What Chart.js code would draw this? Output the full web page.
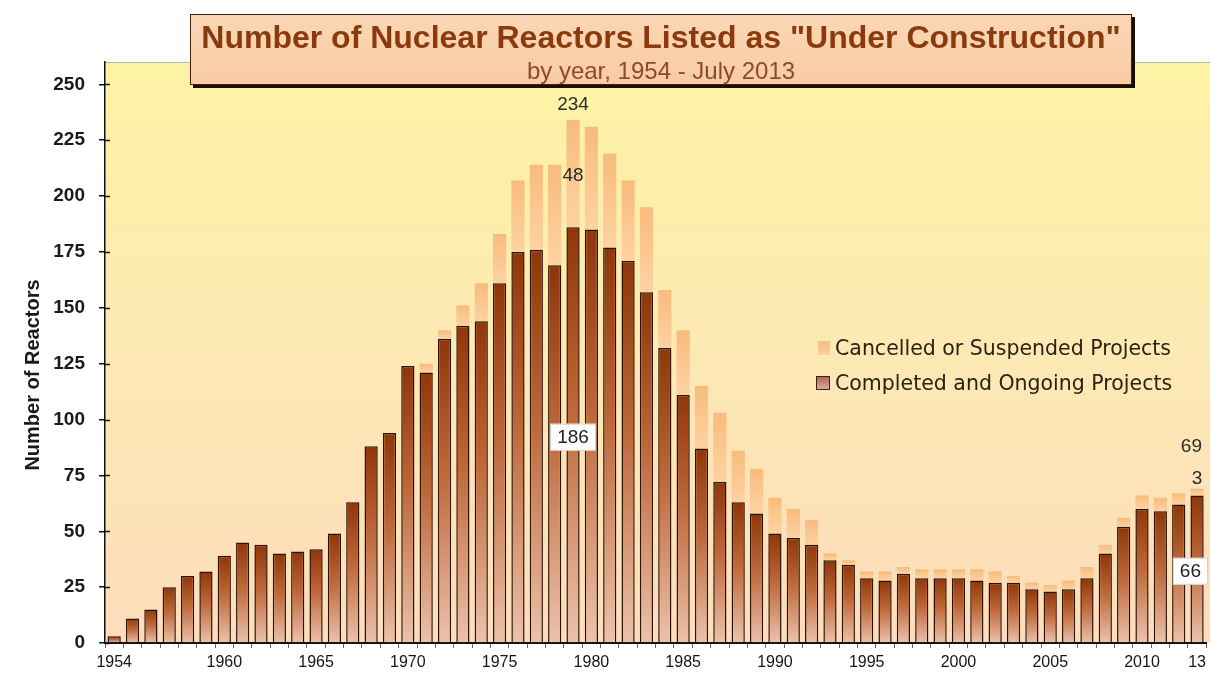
<!DOCTYPE html>
<html>
<head>
<meta charset="utf-8">
<script src="https://cdn.jsdelivr.net/npm/chart.js@4.4.0/dist/chart.umd.min.js"></script>
<style>
html,body{margin:0;padding:0;background:#fff;}
#wrap{position:relative;width:1211px;height:681px;overflow:hidden;background:#fff;}
#c{position:absolute;left:0;top:0;}
#title{position:absolute;left:190px;top:14px;width:942px;height:71px;box-sizing:border-box;
  background:linear-gradient(#fbd7b6,#f8cba3);border:1px solid #4a1e08;box-shadow:3px 3px 0 #1b0c04;
  text-align:center;font-family:"Liberation Sans",Arial,sans-serif;}
#title .t1{position:absolute;left:0;right:0;top:3px;font-weight:bold;font-size:32px;line-height:38px;color:#8a3a0c;white-space:nowrap;}
#title .t2{position:absolute;left:0;right:0;top:43px;font-size:24px;line-height:26px;color:#8e4a2c;white-space:nowrap;}
#legend{position:absolute;left:0;top:0;font-family:"DejaVu Sans",sans-serif;font-size:20.5px;color:#2b2212;}
#legend .row{position:absolute;white-space:nowrap;height:26px;line-height:26px;}
#legend .sw{display:inline-block;vertical-align:middle;box-sizing:border-box;margin-right:5px;position:relative;top:-1px;}
</style>
</head>
<body>
<div id="wrap">
  <canvas id="c" width="1211" height="681"></canvas>
  <div id="title"><div class="t1">Number of Nuclear Reactors Listed as "Under Construction"</div><div class="t2">by year, 1954 - July 2013</div></div>
  <div id="legend"></div>
</div>
<script>
// ---- data ----
const years = ['1954','1955','1956','1957','1958','1959','1960','1961','1962','1963',
               '1964','1965','1966','1967','1968','1969','1970','1971','1972','1973',
               '1974','1975','1976','1977','1978','1979','1980','1981','1982','1983',
               '1984','1985','1986','1987','1988','1989','1990','1991','1992','1993',
               '1994','1995','1996','1997','1998','1999','2000','2001','2002','2003',
               '2004','2005','2006','2007','2008','2009','2010','2011','2012','2013'];
const completed = [3,11,15,25,30,32,39,45,44,40,
                   41,42,49,63,88,94,124,121,136,142,
                   144,161,175,176,169,186,185,177,171,157,
                   132,111,87,72,63,58,49,47,44,37,
                   35,29,28,31,29,29,29,28,27,27,
                   24,23,24,29,40,52,60,59,62,66];
const cancelled = [0,0,0,0,0,0,0,0,0,0,
                   0,0,0,0,0,0,0,4,4,9,
                   17,22,32,38,45,48,46,42,36,38,
                   26,29,28,31,23,20,16,13,11,3,
                   2,3,4,3,4,4,4,5,5,3,
                   3,3,4,5,4,4,6,6,5,3];
const seriesNames = ['Completed and Ongoing Projects', 'Cancelled or Suspended Projects'];
const yTicks = [0,25,50,75,100,125,150,175,200,225,250];
const xTickYears = ['1954','1960','1965','1970','1975','1980','1985','1990','1995','2000','2005','2010','2013'];
const xTickText  = ['1954','1960','1965','1970','1975','1980','1985','1990','1995','2000','2005','2010','13'];
const labelledYears = ['1979','2013'];
const yTitle = 'Number of Reactors';

// ---- styling helpers ----
const FONT = '"Liberation Sans", Arial, sans-serif';

function barRange(ctx, dsIndex) {
  const chart = ctx.chart;
  const y = chart.scales.y;
  const i = ctx.dataIndex;
  const lo = dsIndex === 0 ? 0 : completed[i];
  const hi = dsIndex === 0 ? completed[i] : completed[i] + cancelled[i];
  return [y.getPixelForValue(hi), y.getPixelForValue(lo)];
}
function darkFill(ctx) {
  const chart = ctx.chart;
  if (!chart.chartArea || ctx.type !== 'data') return '#b8603a';
  const [top, base] = barRange(ctx, 0);
  if (!(base > top)) return '#b8603a';
  const g = chart.ctx.createLinearGradient(0, top, 0, base);
  g.addColorStop(0, '#903608');
  g.addColorStop(0.45, '#bf683a');
  g.addColorStop(1, '#ecc2ac');
  return g;
}
function lightFill(ctx) {
  const chart = ctx.chart;
  if (!chart.chartArea || ctx.type !== 'data') return '#fbc78e';
  const [top, base] = barRange(ctx, 1);
  if (!(base > top)) return '#fbc78e';
  const g = chart.ctx.createLinearGradient(0, top, 0, base);
  g.addColorStop(0, '#f8bb7c');
  g.addColorStop(1, '#fdd3a2');
  return g;
}

const bgPlugin = {
  id: 'plotBg',
  beforeDraw(chart) {
    const {ctx, chartArea: a} = chart;
    ctx.save();
    const g = ctx.createLinearGradient(0, a.top, 0, a.bottom);
    g.addColorStop(0, '#fdf3a4');
    g.addColorStop(0.5, '#fde9b4');
    g.addColorStop(1, '#fddcbb');
    ctx.fillStyle = g;
    ctx.fillRect(a.left, a.top, chart.width - a.left - 1, a.bottom - a.top);
    ctx.strokeStyle = '#b9b2a0';
    ctx.lineWidth = 1;
    ctx.beginPath();
    ctx.moveTo(a.left, a.top + 0.5);
    ctx.lineTo(chart.width - 1, a.top + 0.5);
    ctx.stroke();
    ctx.restore();
  }
};

const axisExtras = {
  id: 'axisExtras',
  afterDraw(chart) {
    const {ctx} = chart;
    const y = chart.scales.y;
    ctx.save();
    ctx.strokeStyle = '#111';
    ctx.lineWidth = 1.5;
    yTicks.forEach(v => {
      const py = Math.round(y.getPixelForValue(v)) + 0.5;
      ctx.beginPath();
      ctx.moveTo(y.right, py);
      ctx.lineTo(y.right + 5, py);
      ctx.stroke();
    });
    // y-axis title
    ctx.translate(33, 375);
    ctx.rotate(-Math.PI / 2);
    ctx.font = 'bold 20px ' + FONT;
    ctx.fillStyle = '#1a1a1a';
    ctx.textAlign = 'center';
    ctx.textBaseline = 'middle';
    ctx.fillText(yTitle, 0, 0);
    ctx.restore();
  }
};

const valueLabels = {
  id: 'valueLabels',
  afterDatasetsDraw(chart) {
    const {ctx} = chart;
    const y = chart.scales.y;
    const meta = chart.getDatasetMeta(0);
    ctx.save();
    ctx.font = '19px ' + FONT;
    ctx.textAlign = 'center';
    ctx.textBaseline = 'middle';
    labelledYears.forEach(yr => {
      const i = years.indexOf(yr);
      const el = meta.data[i];
      const done = completed[i], canc = cancelled[i], total = done + canc;
      const clampX = (x, half, lim) => Math.min(x, lim - half);
      const t1 = String(done);
      const w1 = ctx.measureText(t1).width + 14;
      const bx = clampX(el.x, w1 / 2, chart.width - 3);
      const by = y.getPixelForValue(done / 2) + 2;
      ctx.fillStyle = '#ffffff';
      ctx.strokeStyle = '#d8d0c8';
      ctx.lineWidth = 1;
      ctx.fillRect(bx - w1 / 2, by - 13.5, w1, 27);
      ctx.strokeRect(bx - w1 / 2 + 0.5, by - 13.5 + 0.5, w1 - 1, 26);
      ctx.fillStyle = '#222';
      ctx.fillText(t1, bx, by + 1);
      const seg = y.getPixelForValue(done) - y.getPixelForValue(total);
      let cy, ty;
      if (seg > 24) {
        cy = y.getPixelForValue(done + canc / 2) + 2;
        ty = y.getPixelForValue(total) - 15;
      } else {
        cy = y.getPixelForValue(total) - 10;
        ty = cy - 32;
      }
      const t2 = String(canc), t3 = String(total);
      ctx.fillStyle = '#2b2b2b';
      ctx.fillText(t2, clampX(el.x, ctx.measureText(t2).width / 2, chart.width - 8), cy);
      ctx.fillText(t3, clampX(el.x, ctx.measureText(t3).width / 2, chart.width - 9), ty);
    });
    ctx.restore();
  }
};

const chart = new Chart(document.getElementById('c'), {
  type: 'bar',
  data: {
    labels: years,
    datasets: [
      {
        label: seriesNames[0],
        data: completed,
        backgroundColor: darkFill,
        borderColor: '#2a140a',
        borderWidth: {top: 1.5, left: 1.5, right: 1.5, bottom: 0},
        borderSkipped: 'start',
        barPercentage: 0.72,
        categoryPercentage: 1.0
      },
      {
        label: seriesNames[1],
        data: cancelled,
        backgroundColor: lightFill,
        borderWidth: 0,
        barPercentage: 0.72,
        categoryPercentage: 1.0
      }
    ]
  },
  options: {
    responsive: false,
    animation: false,
    devicePixelRatio: 1,
    layout: {padding: {top: 62, right: 4, left: 0, bottom: 0}},
    plugins: {
      legend: {display: false},
      title: {display: false},
      tooltip: {enabled: false}
    },
    scales: {
      x: {
        stacked: true,
        offset: true,
        grid: {display: true, drawOnChartArea: false, drawTicks: true, tickLength: 5, color: '#666', lineWidth: 1, offset: true},
        border: {display: true, color: '#111', width: 2},
        ticks: {
          autoSkip: false, maxRotation: 0, minRotation: 0, padding: 5,
          color: '#151515', font: {family: FONT, size: 16},
          callback: function(v, i) {
            const k = xTickYears.indexOf(years[i]);
            return k >= 0 ? xTickText[k] : '';
          }
        },
        afterFit(s) { s.height = 38; }
      },
      y: {
        stacked: true,
        min: 0,
        max: 260,
        afterBuildTicks(s) { s.ticks = yTicks.map(v => ({value: v})); },
        grid: {display: true, drawOnChartArea: false, drawTicks: true, tickLength: 6, color: '#111', lineWidth: 1.5},
        border: {display: true, color: '#111', width: 1.5},
        ticks: {padding: 14, color: '#1a1a1a', font: {family: FONT, size: 19, weight: 'bold'}},
        title: {display: false},
        afterFit(s) { s.width = 105; }
      }
    }
  },
  plugins: [bgPlugin, axisExtras, valueLabels]
});

// ---- legend (HTML, built from dataset names) ----
const legend = document.getElementById('legend');
const legendRows = [
  {ds: 1, left: 818, top: 335, sw: 'width:12px;height:14px;background:linear-gradient(#f8bd84,#fbcf9e);'},
  {ds: 0, left: 816, top: 370, sw: 'width:14px;height:14px;border:1.5px solid #3a2418;background:linear-gradient(#a86858,#d9aa9c);'}
];
legendRows.forEach(r => {
  const row = document.createElement('div');
  row.className = 'row';
  row.style.left = r.left + 'px';
  row.style.top = r.top + 'px';
  const sw = document.createElement('span');
  sw.className = 'sw';
  sw.style.cssText = r.sw;
  row.appendChild(sw);
  row.appendChild(document.createTextNode(chart.data.datasets[r.ds].label));
  legend.appendChild(row);
});
</script>
</body>
</html>
